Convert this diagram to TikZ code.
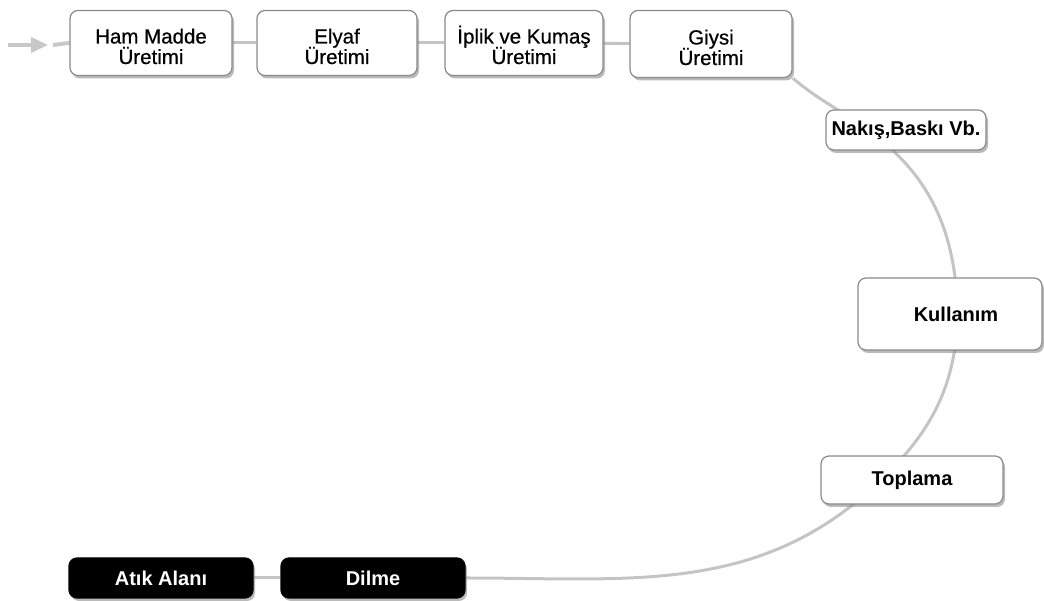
\documentclass[tikz,border=0pt]{standalone}
\usepackage{fontspec}
\setmainfont{Liberation Sans}
\newfontfamily\medfont[FakeBold=0.6]{Liberation Sans}
\usetikzlibrary{shadows,backgrounds,arrows.meta}
\lineskiplimit=-20pt
\definecolor{linegray}{HTML}{C4C4C4}
\definecolor{arrowgray}{HTML}{C8C8C8}
\definecolor{boxborder}{HTML}{8A8A8A}
\tikzset{
  box/.style={draw=boxborder, line width=1.2pt, rounded corners=8pt, fill=white,
    align=center, inner sep=0pt,
    drop shadow={shadow xshift=2pt, shadow yshift=-3pt, fill=black!45, opacity=0.6}},
  twoline/.style={box, font=\medfont\fontsize{20.5}{20.5}\selectfont, text height=45pt, text depth=3pt},
  boldbox/.style={box, font=\fontsize{20}{19}\selectfont\bfseries},
  darkbox/.style={box, draw=black, fill=black, text=white, font=\fontsize{20}{19}\selectfont\bfseries},
  conn/.style={draw=linegray, line width=3pt},
  arrowline/.style={draw=arrowgray, line width=4pt},
}
\begin{document}
\begin{tikzpicture}[x=1pt,y=1pt]
\useasboundingbox (0,0) rectangle (1044,601);
\node[twoline, minimum width=162pt, minimum height=65pt] (ham) at (151,558) {Ham Madde\\Üretimi};
\node[twoline, minimum width=160pt, minimum height=65pt] (elyaf) at (337,558) {Elyaf\\Üretimi};
\node[twoline, minimum width=158pt, minimum height=65pt] (iplik) at (524,558) {İplik ve Kumaş\\Üretimi};
\node[twoline, minimum width=162pt, minimum height=67pt] (giysi) at (711,557) {Giysi\\Üretimi};
\node[boldbox, minimum width=160pt, minimum height=40pt] (nakis) at (906,471) {Nakış,Baskı Vb.};
\node[boldbox, minimum width=184pt, minimum height=72pt] (kull) at (950,287) {\hspace*{12pt}Kullanım};
\node[boldbox, minimum width=182pt, minimum height=48pt] (topl) at (912,121) {Toplama};
\node[darkbox, minimum width=184pt, minimum height=40pt] (atik) at (161,23) {Atık Alanı};
\node[darkbox, minimum width=184pt, minimum height=40pt] (dilme) at (373,23) {Dilme};
\coordinate (s) at (8,556);
\coordinate (d) at (53,556);
\begin{scope}[on background layer]
\draw[arrowline, -{Triangle[length=17pt,width=15pt]}] (s) -- ++(40,0);
\draw[arrowline] (d) -- (ham.west);
\draw[conn] (ham) -- (elyaf);
\draw[conn] (elyaf) -- (iplik);
\draw[conn] (iplik) -- (giysi);
\draw[conn] (atik) -- (dilme);
\draw[conn] (giysi.south east) to[out=-40, in=144] ([xshift=-38pt]nakis.center)
  to[out=-36, in=92] ([xshift=8pt]kull.center)
  to[out=-92, in=44] ([xshift=-31pt]topl.center)
  to[out=-136, in=0] (dilme.east);
\end{scope}
\end{tikzpicture}
\end{document}
